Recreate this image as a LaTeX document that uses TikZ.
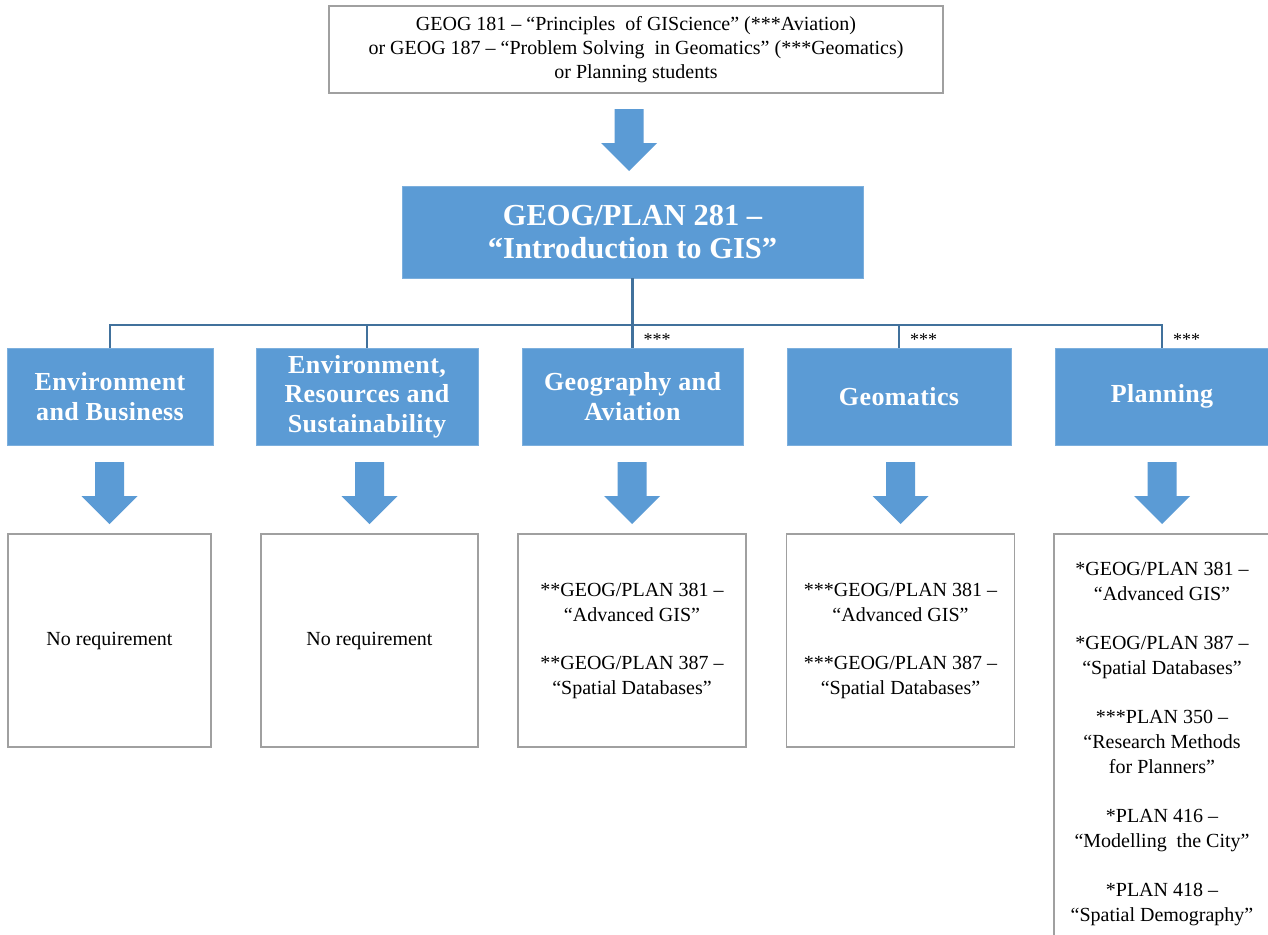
\documentclass[tikz,border=0pt]{standalone}
\usepackage{fontspec}
\setmainfont{Liberation Serif}
\usetikzlibrary{calc}
\definecolor{boxblue}{HTML}{5B9BD5}
\definecolor{linkblue}{HTML}{41719C}
\definecolor{framegray}{HTML}{A0A0A0}
\newcommand\rowtextfont{\fontsize{26}{29.5}\selectfont\bfseries\addfontfeature{LetterSpace=1.5}}
\newcommand\bodytextfont{\fontsize{20}{25}\selectfont}
\tikzset{
  pics/dnarrow/.style={code={
    \fill[boxblue] (-14.5,-31) -- (14.5,-31) -- (14.5,3) -- (28,3) -- (0,31) -- (-28,3) -- (-14.5,3) -- cycle;}},
  bluebox/.style={fill=boxblue, draw=boxblue!80!white, line width=0.6pt, inner sep=0pt, outer sep=0pt,
    align=center, text=white, font=\rowtextfont, minimum height=97},
  whitebox/.style={draw=framegray, line width=1.5pt, inner sep=0pt, outer sep=0pt,
    align=center, font=\bodytextfont, minimum height=213},
  conn/.style={draw=linkblue, line width=2.5pt},
  stars/.style={anchor=base west, inner sep=0pt, font=\fontsize{18}{18}\selectfont}
}
\begin{document}
\begin{tikzpicture}[x=1pt,y=-1pt]
\useasboundingbox (0,0) rectangle (1268,934);
\fill[white] (0,0) rectangle (1268,934);

% top box
\node[draw=framegray, line width=1.5pt, inner sep=0pt, outer sep=0pt, align=center,
      font=\fontsize{20}{24}\selectfont, minimum width=614, minimum height=87]
  (top) at (636,49.5)
  {GEOG 181 – “Principles\ \ of GIScience” (***Aviation)\\
   or GEOG 187 – “Problem Solving\ \ in Geomatics” (***Geomatics)\\
   or Planning students};

% main box
\node[fill=boxblue, draw=boxblue!80!white, line width=0.6pt, inner sep=0pt, outer sep=0pt, align=center,
      text=white, font=\fontsize{30.5}{33}\selectfont\bfseries, minimum width=461, minimum height=92]
  (main) at (632.5,232) {GEOG/PLAN 281 –\\“Introduction to GIS”};

\pic at (629,140) {dnarrow};

% blue row
\node[bluebox, minimum width=206] (b1) at (110,396.5) {Environment\\and Business};
\node[bluebox, minimum width=222] (b2) at (367,396.5) {Environment,\\Resources and\\Sustainability};
\node[bluebox, minimum width=221] (b3) at (632.5,396.5) {Geography and\\Aviation};
\node[bluebox, minimum width=224] (b4) at (899,396.5) {Geomatics};
\node[bluebox, minimum width=214] (b5) at (1162,396.5) {Planning};

% connectors
\coordinate (bus) at (0,325);
\draw[conn] (main.south) -- (b3.north);
\draw[conn] (b1.north) -- (b1.north |- bus) -- (b5.north |- bus) -- (b5.north);
\draw[conn] (b2.north |- bus) -- (b2.north);
\draw[conn] (b4.north |- bus) -- (b4.north);

\node[stars] (s3) at ([xshift=11] b3.north |- 0,345) {***};
\node[stars] (s4) at ([xshift=11] b4.north |- 0,345) {***};
\node[stars] (s5) at ([xshift=11] b5.north |- 0,345) {***};

% white row
\node[whitebox, minimum width=203] (w1) at (109.5,640.5) {No requirement};
\node[whitebox, minimum width=217] (w2) at (369.5,640.5) {No requirement};
\node[whitebox, minimum width=228] (w3) at (632,640.5)
  {**GEOG/PLAN 381 –\\“Advanced GIS”\\[23pt]**GEOG/PLAN 387 –\\“Spatial Databases”};
\node[whitebox, minimum width=228] (w4) at (900.5,640.5)
  {***GEOG/PLAN 381 –\\“Advanced GIS”\\[23pt]***GEOG/PLAN 387 –\\“Spatial Databases”};
\node[whitebox, minimum width=216, minimum height=420, anchor=north] (w5) at (1162,534)
  {*GEOG/PLAN 381 –\\“Advanced GIS”\\[24pt]*GEOG/PLAN 387 –\\“Spatial Databases”\\[24pt]***PLAN 350 –\\“Research Methods\\for Planners”\\[24pt]*PLAN 416 –\\“Modelling\ \ the City”\\[24pt]*PLAN 418 –\\“Spatial Demography”};

% block arrows
\pic at (109.5,493) {dnarrow};
\pic at (369.5,493) {dnarrow};
\pic at (632,493) {dnarrow};
\pic at (900.5,493) {dnarrow};
\pic at (1162,493) {dnarrow};
\end{tikzpicture}
\end{document}
